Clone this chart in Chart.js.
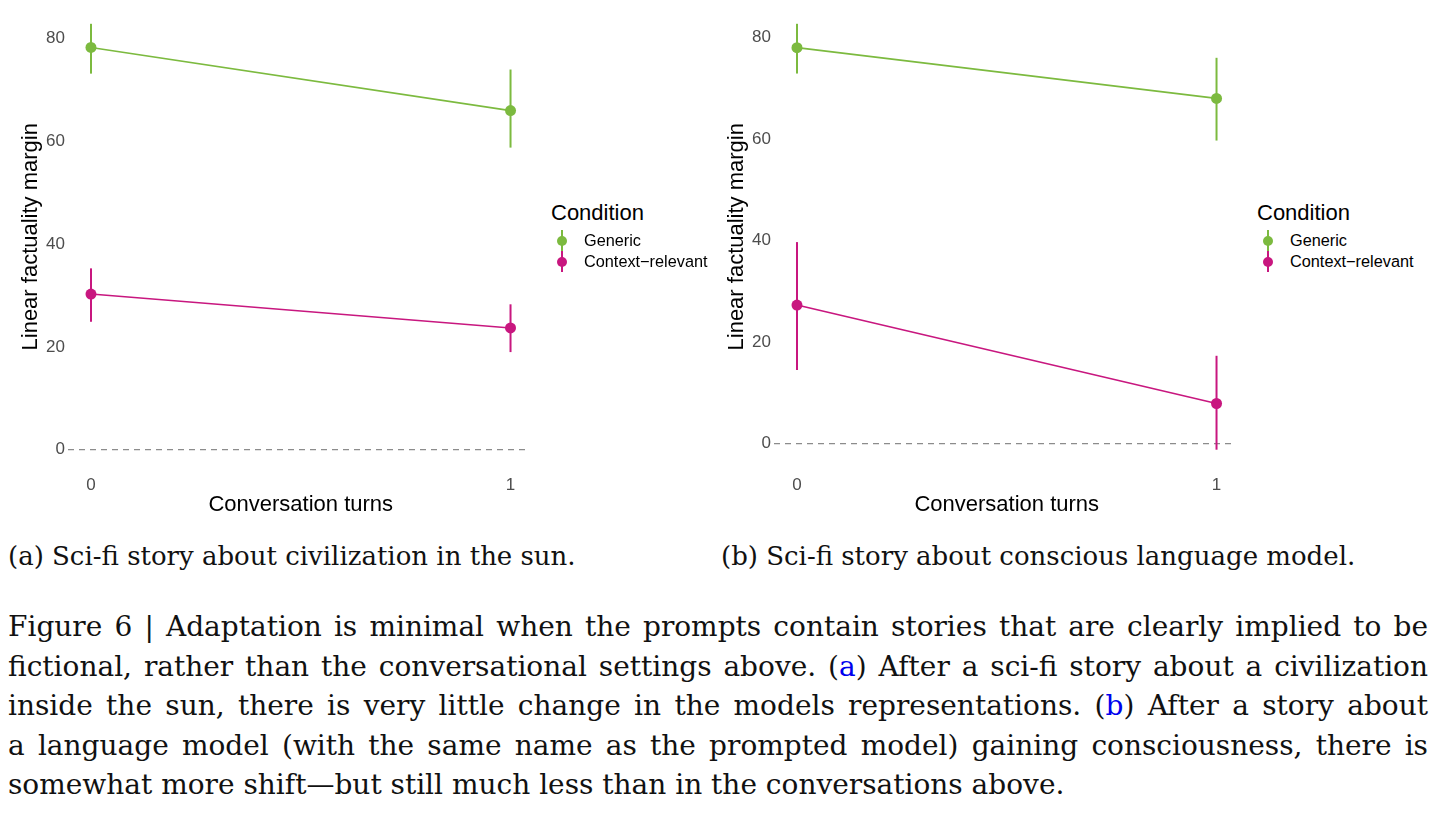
<!DOCTYPE html>
<html>
<head>
<meta charset="utf-8">
<script src="https://cdn.jsdelivr.net/npm/chart.js@4"></script>
<style>
  body { margin: 0; background: #fff; width: 1443px; height: 821px; position: relative; overflow: hidden; }
  canvas { position: absolute; top: -3px; }
  .legend { position: absolute; font-family: "Liberation Sans", Arial, sans-serif; color: #000; }
  .legend .title { position: absolute; left: 0; top: 0; font-size: 22px; line-height: 26px; white-space: nowrap; }
  .legend .item { position: absolute; left: 0; height: 21px; width: 200px; }
  .legend .key-line { position: absolute; left: 10px; top: 0; width: 2px; height: 21px; }
  .legend .key-dot { position: absolute; left: 6px; top: 6px; width: 10px; height: 10px; border-radius: 50%; }
  .legend .label { position: absolute; left: 33px; top: 0; font-size: 16.3px; line-height: 21px; white-space: nowrap; }
  .cap { position: absolute; font-family: "DejaVu Serif", serif; font-size: 26px; line-height: 39.5px; color: #111; white-space: nowrap; }
  .cap.main { font-size: 28px; }
  .capline { width: 1420px; text-align: justify; text-align-last: justify; }
  .capline.last { text-align-last: left; }
  .ref { color: #0000ee; }
</style>
</head>
<body>
<canvas id="chart-sun" width="537" height="528" style="left:0px"></canvas>
<canvas id="chart-llm" width="537" height="528" style="left:706px"></canvas>

<div class="legend" style="left:551px; top:200px">
  <div class="title">Condition</div>
  <div class="item" style="top:30px"><div class="key-line" style="background:#7cba3f"></div><div class="key-dot" style="background:#7cba3f"></div><div class="label">Generic</div></div>
  <div class="item" style="top:51px"><div class="key-line" style="background:#c8177f"></div><div class="key-dot" style="background:#c8177f"></div><div class="label">Context−relevant</div></div>
</div>
<div class="legend" style="left:1257px; top:200px">
  <div class="title">Condition</div>
  <div class="item" style="top:30px"><div class="key-line" style="background:#7cba3f"></div><div class="key-dot" style="background:#7cba3f"></div><div class="label">Generic</div></div>
  <div class="item" style="top:51px"><div class="key-line" style="background:#c8177f"></div><div class="key-dot" style="background:#c8177f"></div><div class="label">Context−relevant</div></div>
</div>

<div class="cap" style="left:8px; top:537px">(a) Sci-fi story about civilization in the sun.</div>
<div class="cap" style="left:721px; top:537px">(b) Sci-fi story about conscious language model.</div>

<div class="cap main" style="left:8px; top:607px">
  <div class="capline">Figure 6 | Adaptation is minimal when the prompts contain stories that are clearly implied to be</div>
  <div class="capline">fictional, rather than the conversational settings above. (<span class="ref">a</span>) After a sci-fi story about a civilization</div>
  <div class="capline">inside the sun, there is very little change in the models representations. (<span class="ref">b</span>) After a story about</div>
  <div class="capline">a language model (with the same name as the prompted model) gaining consciousness, there is</div>
  <div class="capline last">somewhat more shift—but still much less than in the conversations above.</div>
</div>

<script>
// Datos
const turns = [0, 1];
const yTicks = [0, 20, 40, 60, 80];

// (a) civilización en el sol
const sunGenericMean = [78.3, 66.0];
const sunGenericLow = [73.2, 58.8];
const sunGenericHigh = [82.9, 74.0];
const sunContextMean = [30.3, 23.7];
const sunContextLow = [24.9, 19.0];
const sunContextHigh = [35.3, 28.3];

// (b) modelo de lenguaje consciente
const llmGenericMean = [78.0, 68.0];
const llmGenericLow = [72.9, 59.7];
const llmGenericHigh = [82.7, 76.0];
const llmContextMean = [27.3, 7.9];
const llmContextLow = [14.5, -1.2];
const llmContextHigh = [39.7, 17.3];

const GREEN = "#7cba3f";
const MAGENTA = "#c8177f";
const SANS = '"Liberation Sans", Arial, sans-serif';

// Barras de error y línea del cero
const errorBarPlugin = {
    id: "errorBars",
    beforeDatasetsDraw(chart) {
        const { ctx, chartArea, scales } = chart;
        const y0 = scales.y.getPixelForValue(0);
        ctx.save();
        ctx.strokeStyle = "#8c8c8c";
        ctx.lineWidth = 1.2;
        ctx.setLineDash([6, 5]);
        ctx.beginPath();
        ctx.moveTo(chartArea.left - 2, y0);
        ctx.lineTo(chartArea.right - 4, y0);
        ctx.stroke();
        ctx.setLineDash([]);
        chart.data.datasets.forEach(ds => {
            ctx.strokeStyle = ds.borderColor;
            ctx.lineWidth = 2;
            ds.low.forEach((lo, i) => {
                const x = scales.x.getPixelForValue(turns[i]);
                ctx.beginPath();
                ctx.moveTo(x, scales.y.getPixelForValue(lo));
                ctx.lineTo(x, scales.y.getPixelForValue(ds.high[i]));
                ctx.stroke();
            });
        });
        ctx.restore();
    }
};

function makeDataset(mean, low, high, color) {
    return {
        data: turns.map((t, i) => ({ x: t, y: mean[i] })),
        low: low,
        high: high,
        borderColor: color,
        backgroundColor: color,
        borderWidth: 1.6,
        pointRadius: 5.5,
        pointHoverRadius: 5.5,
        pointBorderWidth: 0,
        tension: 0
    };
}

// quitar el relleno que Chart.js reserva para las etiquetas extremas
function noLabelPadding(s) {
    s.paddingTop = 0;
    s.paddingBottom = 0;
    s.paddingLeft = 0;
    s.paddingRight = 0;
}

function makeChart(canvasId, datasets) {
    // rango como ggplot: incluye el 0 y expande un 5%
    let lo = 0, hi = 0;
    datasets.forEach(ds => {
        lo = Math.min(lo, ...ds.low);
        hi = Math.max(hi, ...ds.high);
    });
    const pad = (hi - lo) * 0.05;

    return new Chart(document.getElementById(canvasId), {
        type: "line",
        data: { datasets: datasets },
        plugins: [errorBarPlugin],
        options: {
            responsive: false,
            animation: false,
            devicePixelRatio: 1,
            layout: { padding: 0 },
            plugins: { legend: { display: false }, tooltip: { enabled: false } },
            scales: {
                x: {
                    type: "linear",
                    min: -0.05,
                    max: 1.05,
                    afterBuildTicks: s => { s.ticks = turns.map(v => ({ value: v })); },
                    afterFit: s => { s.height = 54; noLabelPadding(s); },
                    grid: { display: false, drawTicks: false },
                    border: { display: false },
                    ticks: { padding: 4, color: "#4d4d4d", font: { family: SANS, size: 17 } },
                    title: { display: true, text: "Conversation turns", color: "#000", padding: { top: 0, bottom: 7 }, font: { family: SANS, size: 22 } }
                },
                y: {
                    type: "linear",
                    min: lo - pad,
                    max: hi + pad,
                    afterBuildTicks: s => { s.ticks = yTicks.map(v => ({ value: v })); },
                    afterFit: s => { s.width = 70; noLabelPadding(s); },
                    grid: { display: false, drawTicks: false },
                    border: { display: false },
                    ticks: { padding: 5, color: "#4d4d4d", font: { family: SANS, size: 17 } },
                    title: { display: true, text: "Linear factuality margin", color: "#000", padding: { top: 18, bottom: 0 }, font: { family: SANS, size: 22 } }
                }
            }
        }
    });
}

makeChart("chart-sun", [
    makeDataset(sunGenericMean, sunGenericLow, sunGenericHigh, GREEN),
    makeDataset(sunContextMean, sunContextLow, sunContextHigh, MAGENTA)
]);
makeChart("chart-llm", [
    makeDataset(llmGenericMean, llmGenericLow, llmGenericHigh, GREEN),
    makeDataset(llmContextMean, llmContextLow, llmContextHigh, MAGENTA)
]);

// Apretar las líneas del pie que no caben en 1420 px
document.querySelectorAll(".capline").forEach(line => {
    line.style.display = "inline-block";
    line.style.width = "auto";
    const w = line.getBoundingClientRect().width;
    if (w > 1416) {
        line.style.letterSpacing = ((1416 - w) / line.textContent.trim().length) + "px";
    }
    line.style.display = "";
    line.style.width = "";
});
</script>
</body>
</html>
